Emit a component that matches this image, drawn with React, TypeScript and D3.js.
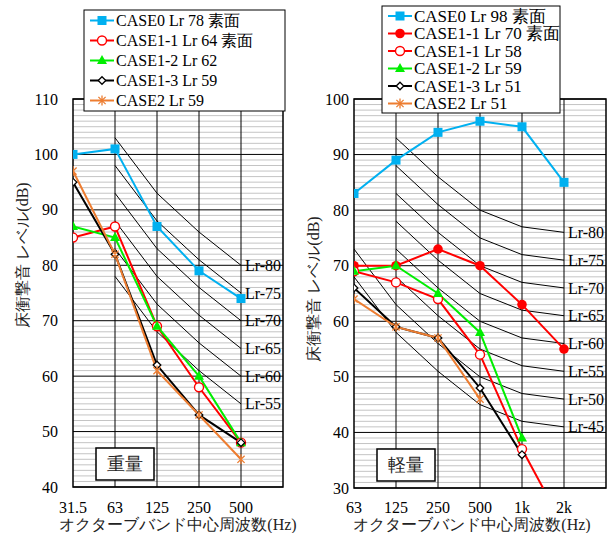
import React, { useEffect, useRef } from 'react';
import * as d3 from 'd3';

// bands / ticks
const heavyBands = ['31.5', '63', '125', '250', '500'];
const lightBands = ['63', '125', '250', '500', '1k', '2k'];
const heavyTicks = [40, 50, 60, 70, 80, 90, 100, 110];
const lightTicks = [30, 40, 50, 60, 70, 80, 90, 100];

// 重量 (heavy) series, 31.5..500
const heavyNames = ['CASE0 Lr 78 素面', 'CASE1-1 Lr 64 素面', 'CASE1-2 Lr 62', 'CASE1-3 Lr 59', 'CASE2 Lr 59'];
const heavyCase0 = [100, 101, 87, 79, 74];
const heavyCase11 = [85, 87, 69, 58, 48];
const heavyCase12 = [87, 85, 69, 60, 48];
const heavyCase13 = [95, 82, 62, 53, 48];
const heavyCase2 = [97, 82, 61, 53, 45];

// 軽量 (light) series, 63..2k
const lightNames = ['CASE0 Lr 98 素面', 'CASE1-1 Lr 70 素面', 'CASE1-1 Lr 58', 'CASE1-2 Lr 59', 'CASE1-3 Lr 51', 'CASE2 Lr 51'];
const lightCase0 = [83, 89, 94, 96, 95, 85];
const lightCase11s = [70, 70, 73, 70, 63, 55];
const lightCase11 = [69, 67, 64, 54, 37, 23];
const lightCase12 = [69, 70, 65, 58, 39, null];
const lightCase13 = [66, 59, 57, 48, 36, null];
const lightCase2 = [64, 59, 57, 46, null, null];

// Lr reference curves (values per band, null = not drawn)
const heavyLrNames = ['Lr-80', 'Lr-75', 'Lr-70', 'Lr-65', 'Lr-60', 'Lr-55'];
const heavyLr = [
  [null, 103, 93, 86, 80],
  [null, 98, 88, 81, 75],
  [null, 93, 83, 76, 70],
  [null, 88, 78, 71, 65],
  [null, 83, 73, 66, 60],
  [null, 78, 68, 61, 55],
];
const lightLrNames = ['Lr-80', 'Lr-75', 'Lr-70', 'Lr-65', 'Lr-60', 'Lr-55', 'Lr-50', 'Lr-45'];
const lightLr = [
  [null, 93, 86, 80, 77, 76],
  [null, 88, 81, 75, 72, 71],
  [null, 83, 76, 70, 67, 66],
  [null, 78, 71, 65, 62, 61],
  [null, 73, 66, 60, 57, 56],
  [null, 68, 61, 55, 52, 51],
  [73, 63, 56, 50, 47, 46],
  [68, 58, 51, 45, 42, 41],
];

type Style = { color: string; marker: string };
const BLUE = '#00b0f0';
const RED = '#ff0000';
const GREEN = '#00ee00';
const ORANGE = '#ed7d31';
const heavyStyles: Style[] = [
  { color: BLUE, marker: 'square' },
  { color: RED, marker: 'circleOpen' },
  { color: GREEN, marker: 'triangle' },
  { color: '#000', marker: 'diamond' },
  { color: ORANGE, marker: 'star' },
];
const lightStyles: Style[] = [
  { color: BLUE, marker: 'square' },
  { color: RED, marker: 'circle' },
  { color: RED, marker: 'circleOpen' },
  { color: GREEN, marker: 'triangle' },
  { color: '#000', marker: 'diamond' },
  { color: ORANGE, marker: 'star' },
];

const FONT = "'Liberation Serif', 'DejaVu Serif', serif";

function drawMarker(g: any, kind: string, x: number, y: number, color: string) {
  if (kind === 'square') {
    g.append('rect').attr('x', x - 4.5).attr('y', y - 4.5).attr('width', 9).attr('height', 9).attr('fill', color);
  } else if (kind === 'circle') {
    g.append('circle').attr('cx', x).attr('cy', y).attr('r', 4.8).attr('fill', color);
  } else if (kind === 'circleOpen') {
    g.append('circle').attr('cx', x).attr('cy', y).attr('r', 4.5).attr('fill', '#fff').attr('stroke', color).attr('stroke-width', 1.4);
  } else if (kind === 'triangle') {
    g.append('path').attr('d', `M${x},${y - 5.5}L${x + 5},${y + 3.5}L${x - 5},${y + 3.5}Z`).attr('fill', color);
  } else if (kind === 'diamond') {
    g.append('path').attr('d', `M${x},${y - 3.8}L${x + 3.8},${y}L${x},${y + 3.8}L${x - 3.8},${y}Z`)
      .attr('fill', '#fff').attr('stroke', color).attr('stroke-width', 1.3);
  } else if (kind === 'star') {
    const s = 3.6;
    g.append('path')
      .attr('d', `M${x - s},${y - s}L${x + s},${y + s}M${x - s},${y + s}L${x + s},${y - s}M${x},${y - 5}L${x},${y + 5}`)
      .attr('stroke', color).attr('stroke-width', 1.3).attr('fill', 'none');
  }
}

interface ChartCfg {
  id: string;
  bands: string[];
  ticks: number[];
  xRange: [number, number];
  xSlots: number;
  yRange: [number, number];
  series: (number | null)[][];
  names: string[];
  styles: Style[];
  lr: (number | null)[][];
  lrNames: string[];
  legend: { x: number; y: number; w: number; h: number; row0: number; step: number; fs: number };
  tickLabelX: number;
  yTitle: { x: number; y: number };
  xTitleX: number;
  box: { x: number; y: number; label: string };
}

function drawChart(svg: any, c: ChartCfg) {
  const x = d3.scaleLinear().domain([0, c.xSlots]).range(c.xRange);
  const y = d3.scaleLinear().domain([c.ticks[0], c.ticks[c.ticks.length - 1]]).range(c.yRange);
  const [x0, x1] = c.xRange;
  const [yb, yt] = c.yRange;
  const g = svg.append('g');

  g.append('clipPath').attr('id', c.id).append('rect')
    .attr('x', x0).attr('y', yt).attr('width', x1 - x0).attr('height', yb - yt);

  // minor grid every 1 dB
  const minor = d3.range(c.ticks[0] + 1, c.ticks[c.ticks.length - 1]).filter(v => v % 10 !== 0);
  g.selectAll('.minor').data(minor).enter().append('line')
    .attr('x1', x0).attr('x2', x1).attr('y1', (d: number) => y(d)).attr('y2', (d: number) => y(d))
    .attr('stroke', '#c4c4c4').attr('stroke-width', 1);
  g.selectAll('.major').data(c.ticks).enter().append('line')
    .attr('x1', x0).attr('x2', x1).attr('y1', (d: number) => y(d)).attr('y2', (d: number) => y(d))
    .attr('stroke', '#000').attr('stroke-width', 1);
  g.selectAll('.vgrid').data(d3.range(1, c.xSlots)).enter().append('line')
    .attr('x1', (d: number) => x(d)).attr('x2', (d: number) => x(d)).attr('y1', yt).attr('y2', yb)
    .attr('stroke', '#000').attr('stroke-width', 1);

  // Lr curves
  const line = d3.line<number | null>()
    .defined(d => d != null)
    .x((_, i) => x(i))
    .y(d => y(d as number));
  c.lr.forEach((vals, k) => {
    g.append('path').attr('d', line(vals)).attr('fill', 'none').attr('stroke', '#000').attr('stroke-width', 1);
    const last = vals.length - 1;
    g.append('text').attr('x', x(last) + 4).attr('y', y(vals[last] as number)).attr('dy', '0.35em')
      .style('font-family', FONT).style('font-size', '16px').style('fill', '#000').text(c.lrNames[k]);
  });

  // frame
  g.append('rect').attr('x', x0).attr('y', yt).attr('width', x1 - x0).attr('height', yb - yt)
    .attr('fill', 'none').attr('stroke', '#000').attr('stroke-width', 1.5);

  // data
  const dg = g.append('g').attr('clip-path', `url(#${c.id})`);
  c.series.forEach((vals, k) => {
    const st = c.styles[k];
    dg.append('path').attr('d', line(vals)).attr('fill', 'none').attr('stroke', st.color).attr('stroke-width', 2);
  });
  c.series.forEach((vals, k) => {
    const st = c.styles[k];
    vals.forEach((v, i) => {
      if (v == null || v < c.ticks[0]) return;
      drawMarker(dg, st.marker, x(i), y(v), st.color);
    });
  });

  // y tick labels
  g.selectAll('.ytl').data(c.ticks).enter().append('text')
    .attr('x', c.tickLabelX).attr('y', (d: number) => y(d)).attr('dy', '0.35em').attr('text-anchor', 'end')
    .style('font-family', FONT).style('font-size', '16px').style('fill', '#000').text((d: number) => d);
  // x tick labels
  g.selectAll('.xtl').data(c.bands).enter().append('text')
    .attr('x', (_: string, i: number) => x(i)).attr('y', 513).attr('text-anchor', 'middle')
    .style('font-family', FONT).style('font-size', '16px').style('fill', '#000').text((d: string) => d);

  // titles
  g.append('text').attr('x', c.xTitleX).attr('y', 530).attr('text-anchor', 'middle')
    .style('font-family', FONT).style('font-size', '16px').style('fill', '#222').text('オクターブバンド中心周波数(Hz)');
  g.append('text').attr('transform', `translate(${c.yTitle.x},${c.yTitle.y}) rotate(-90)`)
    .attr('text-anchor', 'middle').attr('dy', '0.35em')
    .style('font-family', FONT).style('font-size', '16px').style('fill', '#222').text('床衝撃音 レベル(dB)');

  // 重量 / 軽量 box
  g.append('rect').attr('x', c.box.x).attr('y', c.box.y).attr('width', 58).attr('height', 32)
    .attr('fill', '#fff').attr('stroke', '#000').attr('stroke-width', 1.5);
  g.append('text').attr('x', c.box.x + 29).attr('y', c.box.y + 16).attr('dy', '0.35em').attr('text-anchor', 'middle')
    .style('font-family', FONT).style('font-size', '18px').style('fill', '#222').text(c.box.label);

  // legend
  const L = c.legend;
  const lg = g.append('g');
  lg.append('rect').attr('x', L.x).attr('y', L.y).attr('width', L.w).attr('height', L.h)
    .attr('fill', '#fff').attr('stroke', '#000').attr('stroke-width', 1);
  c.names.forEach((name, k) => {
    const st = c.styles[k];
    const ry = L.row0 + k * L.step;
    lg.append('line').attr('x1', L.x + 6).attr('x2', L.x + 30).attr('y1', ry).attr('y2', ry)
      .attr('stroke', st.color).attr('stroke-width', 2);
    drawMarker(lg, st.marker, L.x + 18, ry, st.color);
    lg.append('text').attr('x', L.x + 32).attr('y', ry).attr('dy', '0.35em')
      .style('font-family', FONT).style('font-size', `${L.fs}px`).style('fill', '#000').text(name);
  });
}

const App: React.FC = () => {
  const svgRef = useRef<SVGSVGElement>(null);

  useEffect(() => {
    if (!svgRef.current) return;
    const svg = d3.select(svgRef.current);
    svg.selectAll('*').remove();

    svg.append('rect').attr('width', 610).attr('height', 533).attr('fill', '#fff');

    drawChart(svg, {
      id: 'clipHeavy',
      bands: heavyBands,
      ticks: heavyTicks,
      xRange: [73, 283],
      xSlots: 5,
      yRange: [487, 99],
      series: [heavyCase0, heavyCase11, heavyCase12, heavyCase13, heavyCase2],
      names: heavyNames,
      styles: heavyStyles,
      lr: heavyLr,
      lrNames: heavyLrNames,
      legend: { x: 84, y: 10, w: 201, h: 101, row0: 20.5, step: 20, fs: 16 },
      tickLabelX: 58,
      yTitle: { x: 22, y: 255 },
      xTitleX: 178,
      box: { x: 96, y: 448, label: '重量' },
    });

    drawChart(svg, {
      id: 'clipLight',
      bands: lightBands,
      ticks: lightTicks,
      xRange: [354, 606],
      xSlots: 6,
      yRange: [488, 99],
      series: [lightCase0, lightCase11s, lightCase11, lightCase12, lightCase13, lightCase2],
      names: lightNames,
      styles: lightStyles,
      lr: lightLr,
      lrNames: lightLrNames,
      legend: { x: 382, y: 6, w: 178, h: 107, row0: 16, step: 17.5, fs: 17 },
      tickLabelX: 349,
      yTitle: { x: 313, y: 289 },
      xTitleX: 472,
      box: { x: 377, y: 449, label: '軽量' },
    });
  }, []);

  return (
    <svg ref={svgRef} width={610} height={533} style={{ position: 'absolute', left: 0, top: 0 }}></svg>
  );
};

export default App;
